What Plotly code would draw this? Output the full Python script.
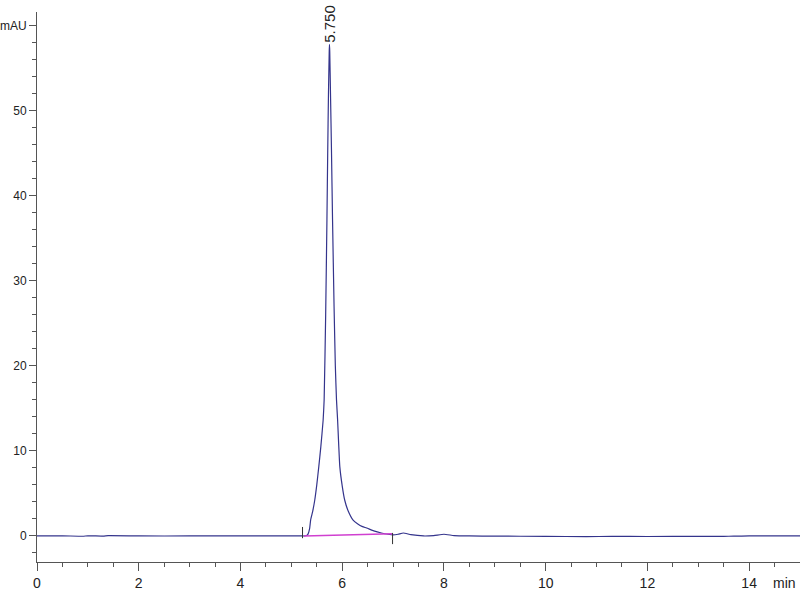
import plotly.graph_objects as go

# chromatogram trace (min, mAU)
time_min = [0.0, 0.5, 0.9, 1.0, 1.3, 1.4, 2.0, 3.0, 4.0, 5.0, 5.2, 5.25, 5.30, 5.33, 5.36,
            5.38, 5.42, 5.46, 5.50, 5.54, 5.58, 5.625, 5.645, 5.675, 5.70, 5.715, 5.73,
            5.745, 5.75, 5.755, 5.77, 5.79, 5.81, 5.84, 5.865, 5.888, 5.91, 5.953, 6.0,
            6.05, 6.12, 6.21, 6.3, 6.4, 6.48, 6.62, 6.77, 6.9, 7.0, 7.1, 7.2, 7.35, 7.6,
            7.8, 8.0, 8.2, 8.5, 9.0, 10.0, 10.8, 11.3, 12.0, 13.0, 13.5, 13.7, 14.0, 15.0]
absorb = [0.0, 0.02, -0.03, 0.02, -0.02, 0.03, 0.0, 0.0, 0.0, 0.0, 0.0, 0.0, 0.05, 0.25, 0.9,
          1.9, 2.9, 4.2, 6.0, 8.15, 10.5, 13.6, 16.0, 26.0, 37.2, 45.0, 52.0,
          57.0, 57.8, 57.0, 52.0, 45.0, 37.2, 27.0, 20.0, 16.0, 13.6, 8.15, 5.9,
          4.2, 2.9, 1.9, 1.45, 1.1, 0.94, 0.6, 0.35, 0.2, 0.12, 0.2, 0.35, 0.15, 0.0,
          0.05, 0.2, 0.05, 0.0, -0.02, -0.05, -0.07, -0.05, -0.06, -0.05, -0.04, -0.02, 0.0, 0.0]

# integration baseline and its start/end marks
base_t = [5.25, 6.99]
base_y = [0.0, 0.25]

peak_rt = 5.750
peak_h = 57.8

y_ticks = [0, 10, 20, 30, 40, 50, 60]
y_text = ["0", "10", "20", "30", "40", "50", "mAU"]
x_ticks = [0, 2, 4, 6, 8, 10, 12, 14]

FONT = "Liberation Sans, Arial, sans-serif"

fig = go.Figure()
fig.add_trace(go.Scatter(x=time_min, y=absorb, mode="lines",
                         line=dict(color="#34348c", width=1.2, shape="spline", smoothing=0.4),
                         hoverinfo="skip"))
fig.add_trace(go.Scatter(x=base_t, y=base_y, mode="lines",
                         line=dict(color="#d040d0", width=1.5), hoverinfo="skip"))
fig.add_trace(go.Scatter(x=[base_t[0] - 0.03], y=[0.4], mode="markers",
                         marker=dict(symbol="line-ns", size=8, line=dict(color="#333", width=1))))
fig.add_trace(go.Scatter(x=[base_t[1]], y=[-0.3], mode="markers",
                         marker=dict(symbol="line-ns", size=8, line=dict(color="#333", width=1))))

fig.add_annotation(x=peak_rt, y=peak_h, text=f"{peak_rt:.3f}", textangle=-90,
                   showarrow=False, yanchor="bottom", xanchor="center", yshift=0,
                   font=dict(size=15, color="#222"))
fig.add_annotation(x=1, y=0, xref="paper", yref="paper", text="min", showarrow=False,
                   xanchor="right", yanchor="top", yshift=-11, xshift=-2,
                   font=dict(size=14, color="#222"))

fig.update_layout(
    width=800, height=600, margin=dict(l=37, r=0, t=12, b=38, autoexpand=False),
    paper_bgcolor="white", plot_bgcolor="white", showlegend=False,
    font=dict(family=FONT, size=14, color="#222"),
)
fig.update_xaxes(range=[0, 15], tickvals=x_ticks, ticks="outside", ticklen=8,
                 tickcolor="#555", showline=True, linecolor="#555", showgrid=False,
                 zeroline=False, automargin=False,
                 minor=dict(dtick=0.5, tick0=0, ticks="outside", ticklen=4,
                            tickcolor="#555", showgrid=False))
fig.update_yaxes(range=[-3.06, 61.6], tickvals=y_ticks, ticktext=y_text, ticks="outside",
                 ticklen=7, tickcolor="#555", showline=True, linecolor="#555",
                 showgrid=False, zeroline=False, automargin=False,
                 tickfont=dict(size=12),
                 minor=dict(dtick=2, tick0=0, ticks="outside", ticklen=4,
                            tickcolor="#555", showgrid=False))

# the page's default body margin would shift the figure by 8px
fig.write_html("out.html", config={"displayModeBar": False},
               post_script="document.body.style.margin='0';document.body.style.overflow='hidden';")
